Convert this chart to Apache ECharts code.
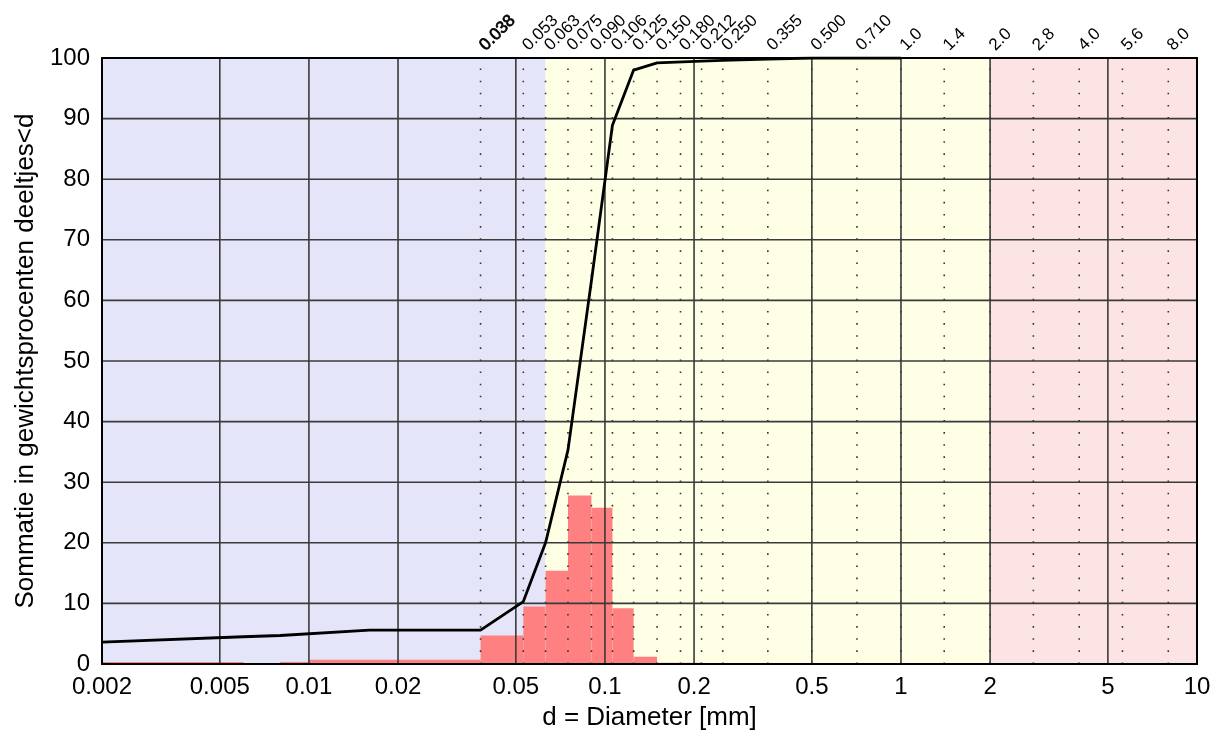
<!DOCTYPE html>
<html><head><meta charset="utf-8">
<script src="https://cdn.jsdelivr.net/npm/echarts@6/dist/echarts.min.js"></script>
<style>html,body{margin:0;padding:0;background:#fff}#c{width:1228px;height:737px}</style>
</head><body><div id="c"></div>
<script>
// ---- data ----
const xTickValues = [0.002, 0.005, 0.01, 0.02, 0.05, 0.1, 0.2, 0.5, 1, 2, 5, 10];
const xTickLabels = ['0.002', '0.005', '0.01', '0.02', '0.05', '0.1', '0.2', '0.5', '1', '2', '5', '10'];
const xGridValues = [0.005, 0.01, 0.02, 0.05, 0.1, 0.2, 0.5, 1, 2, 5];
const yGridValues = [10, 20, 30, 40, 50, 60, 70, 80, 90];
const sieveValues = [0.038, 0.053, 0.063, 0.075, 0.090, 0.106, 0.125, 0.150, 0.180, 0.212, 0.250, 0.355, 0.500, 0.710, 1.0, 1.4, 2.0, 2.8, 4.0, 5.6, 8.0];
const sieveLabels = ['0.038', '0.053', '0.063', '0.075', '0.090', '0.106', '0.125', '0.150', '0.180', '0.212', '0.250', '0.355', '0.500', '0.710', '1.0', '1.4', '2.0', '2.8', '4.0', '5.6', '8.0'];
const zoneFrom = [0.002, 0.063, 2];
const zoneTo = [0.063, 2, 10];
const cumDiameter = [0.002, 0.006, 0.008, 0.016, 0.038, 0.053, 0.063, 0.075, 0.090, 0.106, 0.125, 0.150, 0.212, 0.250, 0.355, 0.500, 0.710, 1.0];
const cumPercent = [3.6, 4.5, 4.7, 5.6, 5.6, 10.3, 20.0, 35.3, 63.2, 88.9, 98.0, 99.2, 99.5, 99.6, 99.8, 100, 100, 100];
const binLower = [0.002, 0.008, 0.010, 0.038, 0.053, 0.063, 0.075, 0.090, 0.106, 0.125, 0.150];
const binUpper = [0.006, 0.010, 0.038, 0.053, 0.063, 0.075, 0.090, 0.106, 0.125, 0.150, 0.212];
const binPercent = [0.35, 0.35, 0.7, 4.7, 9.5, 15.4, 27.8, 25.8, 9.2, 1.2, 0.2];

// ---- styles ----
const zoneColors = ['#e5e5fa', '#ffffe5', '#fde4e4'];
const FONT = '"Liberation Sans", Arial, sans-serif';

function fmtX(v) {
  for (let i = 0; i < xTickValues.length; i++) {
    if (Math.abs(Math.log10(v) - Math.log10(xTickValues[i])) < 1e-6) return xTickLabels[i];
  }
  return '';
}

function vLine(color, width, dash) {
  return function (params, api) {
    const cs = params.coordSys;
    const x = api.coord([api.value(0), 0])[0];
    const style = {stroke: color, lineWidth: width};
    if (dash) style.lineDash = dash;
    return {type: 'line', shape: {x1: x, y1: cs.y + cs.height, x2: x, y2: cs.y}, style: style};
  };
}
function hLine(color, width) {
  return function (params, api) {
    const cs = params.coordSys;
    const y = api.coord([1, api.value(1)])[1];
    return {type: 'line', shape: {x1: cs.x, y1: y, x2: cs.x + cs.width, y2: y}, style: {stroke: color, lineWidth: width}};
  };
}

const chart = echarts.init(document.getElementById('c'), null, {renderer: 'canvas'});
const option = {
  animation: false,
  backgroundColor: '#fff',
  grid: {left: 102, right: 31, top: 58, bottom: 73, show: false},
  xAxis: [{
    type: 'log', logBase: 10, min: 0.002, max: 10, z: 10,
    axisLine: {show: true, onZero: false, lineStyle: {color: '#000', width: 2}},
    axisTick: {show: false},
    splitLine: {show: false},
    axisLabel: {customValues: xTickValues, formatter: fmtX, fontSize: 24, color: '#000', margin: 11, fontFamily: FONT},
    name: 'd = Diameter [mm]', nameLocation: 'middle', nameGap: 41,
    nameTextStyle: {fontSize: 26, color: '#000', fontFamily: FONT}
  }, {
    type: 'log', logBase: 10, min: 0.002, max: 10, position: 'top', z: 10,
    axisLine: {show: true, onZero: false, lineStyle: {color: '#000', width: 2}},
    axisTick: {show: false}, axisLabel: {show: false}, splitLine: {show: false}
  }],
  yAxis: [{
    type: 'value', min: 0, max: 100, interval: 10, z: 10,
    axisLine: {show: true, onZero: false, lineStyle: {color: '#000', width: 2}},
    axisTick: {show: false},
    splitLine: {show: false},
    axisLabel: {fontSize: 24, color: '#000', margin: 12, fontFamily: FONT},
    name: 'Sommatie in gewichtsprocenten deeltjes<d', nameLocation: 'middle', nameGap: 62,
    nameTextStyle: {fontSize: 26, color: '#000', fontFamily: FONT}
  }, {
    type: 'value', min: 0, max: 100, interval: 10, position: 'right', z: 10,
    axisLine: {show: true, onZero: false, lineStyle: {color: '#000', width: 2}},
    axisTick: {show: false}, axisLabel: {show: false}, splitLine: {show: false}
  }],
  series: [
    {
      type: 'line', z: 1, data: [], silent: true,
      markArea: {
        silent: true,
        data: zoneFrom.map((f, i) => [{xAxis: f, itemStyle: {color: zoneColors[i]}}, {xAxis: zoneTo[i]}])
      }
    },
    {
      type: 'custom', z: 2, silent: true,
      data: binLower.map((l, i) => [l, binUpper[i], binPercent[i]]),
      encode: {x: [0, 1], y: 2},
      renderItem: function (params, api) {
        const lo = api.coord([api.value(0), 0]);
        const hi = api.coord([api.value(1), api.value(2)]);
        return {type: 'rect', shape: {x: lo[0], y: hi[1], width: hi[0] - lo[0], height: lo[1] - hi[1]},
          style: {fill: '#ff8080'}};
      }
    },
    {
      type: 'custom', z: 3, silent: true,
      data: sieveValues.map(v => [v, 0]), encode: {x: 0, y: 1},
      renderItem: vLine('#333', 1.6, [1.6, 10.52])
    },
    {
      type: 'custom', z: 3, silent: true,
      data: xGridValues.map(v => [v, 0]), encode: {x: 0, y: 1},
      renderItem: vLine('#3a3a3a', 1.6)
    },
    {
      type: 'custom', z: 3, silent: true,
      data: yGridValues.map(v => [1, v]), encode: {x: 0, y: 1},
      renderItem: hLine('#3a3a3a', 1.6)
    },
    {
      type: 'line', z: 5, silent: true, symbol: 'none',
      data: cumDiameter.map((d, i) => [d, cumPercent[i]]),
      lineStyle: {color: '#000', width: 2.8}
    }
  ]
};
chart.setOption(option);

const gfx = sieveValues.map((v, i) => {
  const p = chart.convertToPixel({xAxisIndex: 0, yAxisIndex: 0}, [v, 100]);
  const style = {text: sieveLabels[i], font: '17px ' + FONT, fill: '#000', align: 'left', verticalAlign: 'bottom'};
  if (i === 0) { style.stroke = '#000'; style.lineWidth = 0.7; }
  return {type: 'text', x: p[0] + 8, y: p[1] - 4, rotation: Math.PI / 4, style: style, silent: true};
});
chart.setOption({graphic: gfx});
</script>
</body></html>
